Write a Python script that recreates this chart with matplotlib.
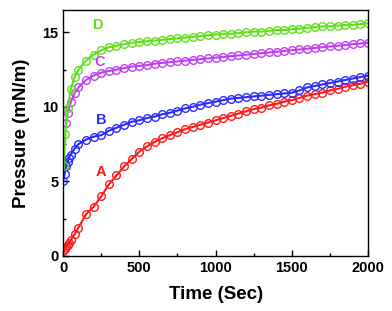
import matplotlib.pyplot as plt
from matplotlib.ticker import MultipleLocator

plt.rcParams['font.family'] = ['Liberation Sans', 'DejaVu Sans']
plt.rcParams['font.weight'] = 'bold'

# sample times (sec)
t_early = [0, 10, 20, 30, 40, 50, 75, 100, 150, 200, 250]
t_late = [300, 350, 400, 450, 500, 550, 600, 650, 700, 750, 800, 850, 900, 950,
          1000, 1050, 1100, 1150, 1200, 1250, 1300, 1350, 1400, 1450, 1500, 1550,
          1600, 1650, 1700, 1750, 1800, 1850, 1900, 1950, 2000]
t_all = t_early + t_late

# surface pressure (mN/m)
p_A = [0.3, 0.45, 0.6, 0.75, 0.9, 1.05, 1.45, 1.9, 2.8, 3.3, 4.0,
       4.8, 5.4, 6.0, 6.5, 7.0, 7.35, 7.65, 7.9, 8.1, 8.3, 8.5, 8.65, 8.8, 8.95,
       9.1, 9.25, 9.4, 9.55, 9.7, 9.85, 9.95, 10.1, 10.2, 10.35, 10.45, 10.6,
       10.75, 10.85, 10.95, 11.1, 11.2, 11.35, 11.45, 11.55, 11.7]
p_B = [5.0, 5.5, 6.0, 6.3, 6.6, 6.8, 7.2, 7.5, 7.8, 8.0, 8.1,
       8.4, 8.6, 8.8, 9.0, 9.1, 9.25, 9.35, 9.5, 9.6, 9.75, 9.9, 10.0, 10.15,
       10.25, 10.35, 10.45, 10.55, 10.6, 10.65, 10.7, 10.75, 10.8, 10.85, 10.9,
       10.95, 11.1, 11.3, 11.4, 11.5, 11.6, 11.7, 11.8, 11.9, 12.0, 12.1]
t_C = [20, 30, 50, 75, 100, 150, 200, 250] + t_late
p_C = [8.9, 9.6, 10.3, 10.9, 11.3, 11.8, 12.1, 12.3,
       12.4, 12.5, 12.6, 12.7, 12.75, 12.8, 12.9, 12.95, 13.0, 13.05, 13.1,
       13.15, 13.2, 13.25, 13.3, 13.35, 13.4, 13.45, 13.5, 13.55, 13.6, 13.65,
       13.7, 13.75, 13.8, 13.85, 13.9, 13.95, 14.0, 14.05, 14.1, 14.15, 14.2,
       14.25, 14.3]
t_D = [5, 15, 30, 50, 75, 100, 150, 200, 250] + t_late
p_D = [6.0, 8.2, 9.9, 11.2, 12.0, 12.5, 13.1, 13.5, 13.8,
       14.0, 14.1, 14.2, 14.3, 14.35, 14.4, 14.45, 14.5, 14.55, 14.6, 14.65,
       14.7, 14.75, 14.8, 14.85, 14.9, 14.9, 14.95, 15.0, 15.05, 15.05, 15.1,
       15.15, 15.15, 15.2, 15.25, 15.3, 15.35, 15.4, 15.4, 15.45, 15.5, 15.5,
       15.55, 15.6]

series = [
    ('A', t_all, p_A, '#ff1a1a', (250, 5.6)),
    ('B', t_all, p_B, '#2b2bff', (250, 9.1)),
    ('C', t_C, p_C, '#c040f0', (243, 13.0)),
    ('D', t_D, p_D, '#5fe01a', (230, 15.5)),
]

fig = plt.figure(figsize=(3.92, 3.11), dpi=100)
ax = fig.add_axes([0.161, 0.177, 0.778, 0.791])

for name, t, p, col, pos in series:
    ax.plot(t, p, '-', color=col, lw=1.5)
    ax.plot(t, p, 'o', mfc='none', mec=col, ms=5.5, mew=1.0)
    ax.text(pos[0], pos[1], name, color=col, fontsize=10.5, fontweight='bold',
            ha='center', va='center')

ax.set_xlim(0, 2000)
ax.set_ylim(0, 16.5)
ax.xaxis.set_major_locator(MultipleLocator(500))
ax.xaxis.set_minor_locator(MultipleLocator(250))
ax.yaxis.set_major_locator(MultipleLocator(5))
ax.yaxis.set_minor_locator(MultipleLocator(2.5))
ax.tick_params(which='both', direction='in', top=False, right=False,
               labelsize=10.5, width=1.0)
ax.tick_params(which='major', length=4)
ax.tick_params(which='minor', length=2.5)
for lab in ax.get_xticklabels() + ax.get_yticklabels():
    lab.set_fontweight('bold')
for s in ax.spines.values():
    s.set_linewidth(1.0)

ax.set_xlabel('Time (Sec)', fontsize=13.5, fontweight='bold', labelpad=8)
ax.set_ylabel('Pressure (mN/m)', fontsize=13.5, fontweight='bold', labelpad=9)

fig.savefig('out.png', dpi=100)
